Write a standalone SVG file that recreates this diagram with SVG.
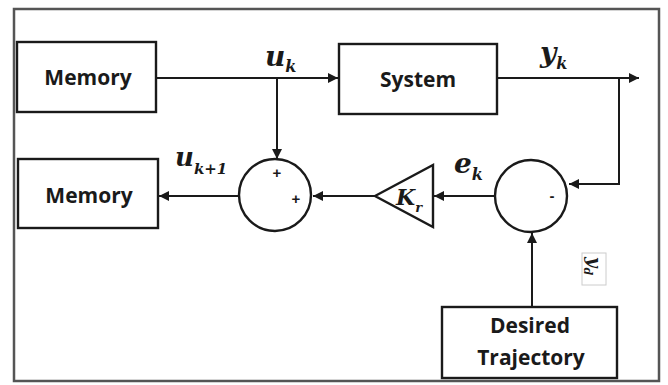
<svg xmlns="http://www.w3.org/2000/svg" width="668" height="385" viewBox="0 0 668 385">
<style>
.box{fill:#fff;stroke:#1a1a1a;stroke-width:2.4}
.ln{fill:none;stroke:#1a1a1a;stroke-width:2}
.lbl{font-family:"Open Sans","Liberation Sans",sans-serif;font-weight:bold;font-size:21px;fill:#1a1a1a;text-anchor:middle}
.m{font-family:"DejaVu Serif","Liberation Serif",serif;font-style:italic;font-weight:bold;fill:#1a1a1a}
.sg{font-family:"Liberation Sans",sans-serif;font-weight:bold;font-size:15px;fill:#1a1a1a;text-anchor:middle}
</style>
<defs>
<marker id="ah" viewBox="0 0 10 10" refX="10" refY="5" markerWidth="5" markerHeight="5" orient="auto" markerUnits="strokeWidth">
<path d="M0,0 L10,5 L0,10 z" fill="#1a1a1a"/>
</marker>
</defs>
<rect x="0" y="0" width="668" height="385" fill="#fff"/>
<rect id="frame" x="14" y="9" width="645" height="372" fill="#fff" stroke="#555" stroke-width="2.5"/>

<g id="connectors">
<path class="ln" d="M156,78 H338" marker-end="url(#ah)"/>
<path class="ln" d="M277,78 V159" marker-end="url(#ah)"/>
<path class="ln" d="M497,78 H639" marker-end="url(#ah)"/>
<path class="ln" d="M619,78 V184 H569" marker-end="url(#ah)"/>
<path class="ln" d="M532,307 V233" marker-end="url(#ah)"/>
<path class="ln" d="M495,196 H434" marker-end="url(#ah)"/>
<path class="ln" d="M375,196 H313" marker-end="url(#ah)"/>
<path class="ln" d="M238,196 H159" marker-end="url(#ah)"/>
</g>

<g id="memory1">
<rect class="box" x="17" y="42" width="139" height="70"/>
<text class="lbl" x="88" y="85">Memory</text>
</g>
<g id="system">
<rect class="box" x="339" y="44" width="158" height="70"/>
<text class="lbl" x="418" y="87">System</text>
</g>
<g id="memory2">
<rect class="box" x="18" y="159" width="140" height="69"/>
<text class="lbl" x="89" y="203">Memory</text>
</g>
<g id="sum1">
<circle class="box" cx="275" cy="195" r="36"/>
<text class="sg" x="277" y="178">+</text>
<text class="sg" x="296" y="204">+</text>
</g>
<g id="gain">
<polygon class="box" points="375,196 433,165 433,227"/>
<text class="m" x="396" y="205" font-size="22">K<tspan font-size="13" dy="7">r</tspan></text>
</g>
<g id="sum2">
<circle class="box" cx="531" cy="196" r="36"/>
<text class="sg" x="552" y="201" font-weight="normal" fill="#666">-</text>
</g>
<g id="desired">
<rect class="box" x="442" y="307" width="175" height="71"/>
<text class="lbl" x="530" y="333">Desired</text>
<text class="lbl" x="531" y="365">Trajectory</text>
</g>

<g id="labels">
<text class="m" x="265" y="66" font-size="28">u<tspan font-size="16" dy="6">k</tspan></text>
<text class="m" x="540" y="62" font-size="28">y<tspan font-size="16" dy="7">k</tspan></text>
<text class="m" x="175" y="166" font-size="26">u<tspan font-size="15" dy="8">k+1</tspan></text>
<text class="m" x="454" y="173" font-size="28">e<tspan font-size="16" dy="7">k</tspan></text>
<g transform="translate(590,268) rotate(90)">
<rect x="-15" y="-16" width="32" height="24" fill="#fff" stroke="#ccc" stroke-width="1"/>
<text class="m" x="-11" y="2" font-size="18" fill="#555">y<tspan font-size="11" dy="4">d</tspan></text>
</g>
</g>
</svg>
